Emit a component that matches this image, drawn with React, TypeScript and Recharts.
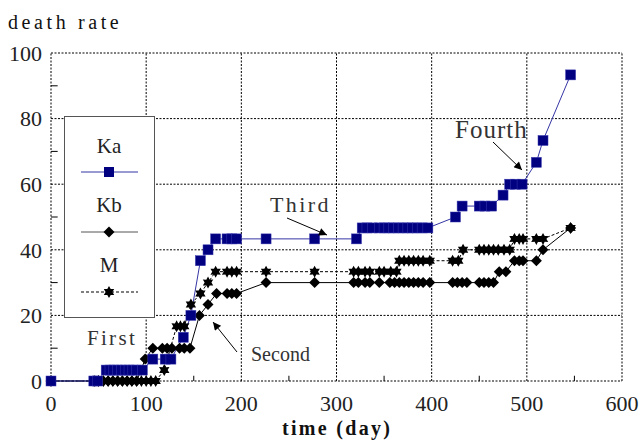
import React from 'react';
import { LineChart, Line, XAxis, YAxis, ReferenceLine } from 'recharts';

const xTicks = [0, 100, 200, 300, 400, 500, 600];
const yTicks = [0, 20, 40, 60, 80, 100];
const xMinorTicks = [50, 150, 250, 350, 450, 550];
const yMinorTicks = [10, 30, 50, 70, 90];

const kaData = [
  [0, 0], [45, 0], [49, 0], [58, 3.33], [62, 3.33], [66, 3.33], [70, 3.33], [74, 3.33], [78, 3.33],
  [82, 3.33], [86, 3.33], [90, 3.33], [96, 3.33], [107, 6.67], [120, 6.67], [126, 6.67], [139, 13.33],
  [147, 20], [157, 36.67], [165, 40], [173, 43.33], [185, 43.33], [190, 43.33], [195, 43.33],
  [226, 43.33], [277, 43.33], [321, 43.33], [327, 46.67], [332, 46.67], [338, 46.67], [345, 46.67],
  [350, 46.67], [355, 46.67], [360, 46.67], [365, 46.67], [370, 46.67], [375, 46.67], [380, 46.67],
  [385, 46.67], [390, 46.67], [396, 46.67], [425, 50], [432, 53.33], [450, 53.33], [456, 53.33],
  [463, 53.33], [475, 56.67], [482, 60], [488, 60], [495, 60], [510, 66.67], [517, 73.33], [546, 93.33],
].map(([t, v]) => ({ t, v }));

const kbData = [
  [0, 0], [45, 0], [50, 0], [55, 0], [60, 0], [65, 0], [70, 0], [75, 0], [80, 0], [85, 0], [90, 0],
  [99, 6.67], [107, 10], [117, 10], [122, 10], [127, 10], [135, 10], [140, 10], [146, 10], [156, 20],
  [165, 23.33], [174, 26.67], [185, 26.67], [190, 26.67], [195, 26.67], [226, 30], [277, 30], [318, 30],
  [323, 30], [330, 30], [335, 30], [345, 30], [356, 30], [361, 30], [366, 30], [371, 30], [376, 30],
  [381, 30], [386, 30], [391, 30], [398, 30], [422, 30], [427, 30], [432, 30], [437, 30], [450, 30],
  [455, 30], [460, 30], [465, 30], [471, 33.33], [478, 33.33], [487, 36.67], [492, 36.67], [496, 36.67],
  [510, 36.67], [517, 40], [546, 46.67],
].map(([t, v]) => ({ t, v }));

const mData = [
  [0, 0], [46, 0], [50, 0], [55, 0], [60, 0], [65, 0], [70, 0], [75, 0], [80, 0], [85, 0], [90, 0],
  [95, 0], [100, 0], [105, 0], [110, 0], [119, 3.33], [132, 16.67], [136, 16.67], [140, 16.67],
  [147, 23.33], [157, 26.67], [165, 30], [173, 33.33], [185, 33.33], [190, 33.33], [195, 33.33],
  [226, 33.33], [277, 33.33], [318, 33.33], [323, 33.33], [330, 33.33], [335, 33.33], [345, 33.33],
  [350, 33.33], [357, 33.33], [363, 33.33], [366, 36.67], [371, 36.67], [376, 36.67], [381, 36.67],
  [386, 36.67], [391, 36.67], [398, 36.67], [422, 36.67], [428, 36.67], [433, 40], [450, 40], [455, 40],
  [460, 40], [465, 40], [470, 40], [476, 40], [482, 40], [487, 43.33], [492, 43.33], [496, 43.33],
  [510, 43.33], [517, 43.33], [546, 46.67],
].map(([t, v]) => ({ t, v }));

const NAVY = '#000080';
const LINE_BLUE = '#3535a5';
const FONT = 'Liberation Serif';

function starPoints(cx: number, cy: number, ro: number, ri: number) {
  const pts: string[] = [];
  for (let i = 0; i < 12; i++) {
    const r = i % 2 === 0 ? ro : ri;
    const a = (Math.PI / 6) * i - Math.PI / 2;
    pts.push(`${cx + r * Math.cos(a)},${cy + r * Math.sin(a)}`);
  }
  return pts.join(' ');
}

const SquareDot = (p: any) => {
  if (p.cx == null || p.cy == null) return <g key={`ka-${p.index}`} />;
  return <rect key={`ka-${p.index}`} x={p.cx - 5} y={p.cy - 5} width={10} height={10} fill={NAVY} stroke="#3a3ab0" strokeWidth={0.5} />;
};
const DiamondDot = (p: any) => {
  if (p.cx == null || p.cy == null) return <g key={`kb-${p.index}`} />;
  const { cx, cy } = p;
  return <polygon key={`kb-${p.index}`} points={`${cx},${cy - 5.5} ${cx + 5.5},${cy} ${cx},${cy + 5.5} ${cx - 5.5},${cy}`} fill="#000" />;
};
const StarDot = (p: any) => {
  if (p.cx == null || p.cy == null) return <g key={`m-${p.index}`} />;
  return <polygon key={`m-${p.index}`} points={starPoints(p.cx, p.cy, 6, 3.4)} fill="#000" />;
};

const textStyle = { fontFamily: FONT };

export default function App() {
  return (
    <div style={{ position: 'absolute', left: 0, top: 0, width: 642, height: 440, background: '#fff' }}>
      <LineChart width={642} height={440} margin={{ top: 53, right: 20, bottom: 29, left: 0 }}>
        <XAxis
          dataKey="t"
          type="number"
          height={30}
          domain={[0, 600]}
          ticks={xTicks}
          tickLine={false}
          axisLine={false}
          tickSize={0}
          tickMargin={14}
          tick={{ fill: '#222', fontSize: 22, fontFamily: FONT, style: textStyle }}
          allowDuplicatedCategory={false}
        />
        <YAxis
          type="number"
          width={51}
          domain={[0, 100]}
          ticks={yTicks}
          tickLine={false}
          axisLine={false}
          tickSize={0}
          tickMargin={9}
          tick={{ fill: '#222', fontSize: 22, fontFamily: FONT, style: textStyle }}
        />
        {xTicks.map((x) => (
          <ReferenceLine key={`xg-${x}`} x={x} stroke="#000" strokeWidth={1} strokeDasharray="2 1.5" />
        ))}
        {yTicks.map((y) => (
          <ReferenceLine key={`yg-${y}`} y={y} stroke="#000" strokeWidth={1} strokeDasharray="2 1.5" />
        ))}
        {xMinorTicks.map((x) => (
          <ReferenceLine key={`xm-${x}`} segment={[{ x, y: 0 }, { x, y: 1.6 }]} stroke="#000" strokeWidth={1} />
        ))}
        {yMinorTicks.map((y) => (
          <ReferenceLine key={`ym-${y}`} segment={[{ x: 0, y }, { x: 7, y }]} stroke="#000" strokeWidth={1} />
        ))}
        <Line data={mData} dataKey="v" stroke="#000" strokeWidth={1} strokeDasharray="3 2" dot={StarDot} isAnimationActive={false} />
        <Line data={kbData} dataKey="v" stroke="#000" strokeWidth={1} dot={DiamondDot} isAnimationActive={false} />
        <Line data={kaData} dataKey="v" stroke={LINE_BLUE} strokeWidth={1} dot={SquareDot} isAnimationActive={false} />
      </LineChart>
      <svg width={642} height={440} style={{ position: 'absolute', left: 0, top: 0, pointerEvents: 'none', fontFamily: FONT }}>
        <defs>
          <marker id="arrow" viewBox="0 0 10 10" refX="10" refY="5" markerWidth="10" markerHeight="8" orient="auto" markerUnits="userSpaceOnUse">
            <path d="M0,0 L10,5 L0,10 z" fill="#000" />
          </marker>
        </defs>
        <text x={8} y={29} style={textStyle} fontSize={20} letterSpacing={3.6} fill="#111">death rate</text>
        <text x={282} y={435} style={textStyle} fontSize={20} fontWeight="bold" letterSpacing={2.3} fill="#111">time (day)</text>

        {/* legend */}
        <rect x={64.5} y={116.5} width={90} height={201} fill="#fff" stroke="#555" strokeWidth={1} />
        <text x={109} y={153} textAnchor="middle" style={textStyle} fontSize={21} fill="#222">Ka</text>
        <line x1={81} y1={172} x2={138} y2={172} stroke={LINE_BLUE} strokeWidth={1} />
        <rect x={104} y={167} width={10} height={10} fill={NAVY} />
        <text x={109} y={212} textAnchor="middle" style={textStyle} fontSize={21} fill="#222">Kb</text>
        <line x1={81} y1={232} x2={138} y2={232} stroke="#555" strokeWidth={1} />
        <polygon points="109,226.5 114.5,232 109,237.5 103.5,232" fill="#000" />
        <text x={109} y={272} textAnchor="middle" style={textStyle} fontSize={21} fill="#222">M</text>
        <line x1={81} y1={292} x2={138} y2={292} stroke="#000" strokeWidth={1} strokeDasharray="3 2" />
        <polygon points={starPoints(109, 292, 6, 3.4)} fill="#000" />

        {/* annotations */}
        <text x={87} y={345} style={textStyle} fontSize={21} letterSpacing={2.3} fill="#333">First</text>
        <text x={251} y={361} style={textStyle} fontSize={20} fill="#333">Second</text>
        <line x1={237} y1={352} x2={213} y2={322} stroke="#000" strokeWidth={1} markerEnd="url(#arrow)" />
        <text x={270} y={212} style={textStyle} fontSize={22} letterSpacing={2.4} fill="#333">Third</text>
        <line x1={287} y1={218} x2={327} y2={235} stroke="#000" strokeWidth={1} markerEnd="url(#arrow)" />
        <text x={455} y={138} style={textStyle} fontSize={25} letterSpacing={1} fill="#333">Fourth</text>
        <line x1={493} y1={142} x2={522} y2={170} stroke="#000" strokeWidth={1} markerEnd="url(#arrow)" />
      </svg>
    </div>
  );
}
